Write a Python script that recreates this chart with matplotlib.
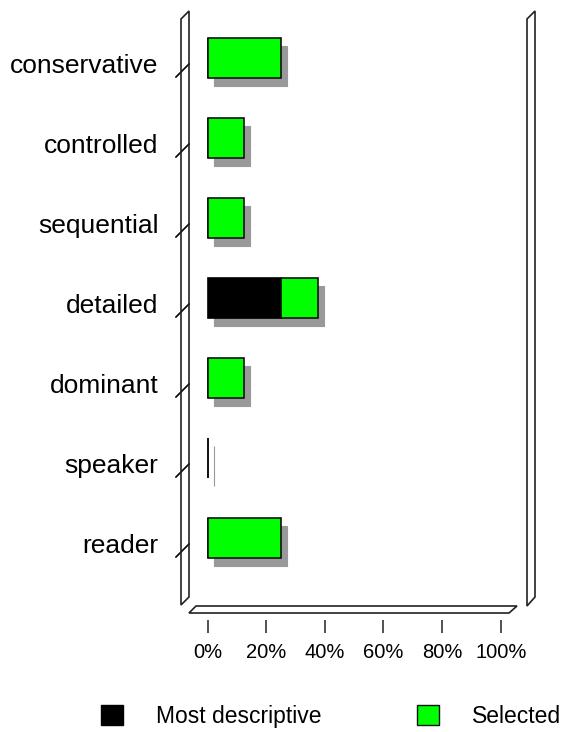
"""
Descriptor selection chart (pseudo-3D horizontal bars)
"""
import matplotlib
matplotlib.use("Agg")
from matplotlib import pyplot as plt
from matplotlib import transforms as mtransforms
from matplotlib.lines import Line2D
from matplotlib.patches import Patch, Polygon

plt.rcParams["font.family"] = ["Liberation Sans", "DejaVu Sans"]

# data
categories = ["conservative", "controlled", "sequential", "detailed",
              "dominant", "speaker", "reader"]
most_descriptive = [0, 0, 0, 25, 0, 0, 0]
selected = [25, 12.5, 12.5, 12.5, 12.5, 0, 25]
x_ticks = [0, 20, 40, 60, 80, 100]
x_tick_labels = ["0%", "20%", "40%", "60%", "80%", "100%"]
series_labels = ["Most descriptive", "Selected"]

# layout in image pixels (dpi = 100)
W, H = 571, 732
L, R, T, B = 189, 527, 11, 606  # plot box
D = 8                           # wall depth
GREEN = "#00ff00"
SHADOW = "#999999"
EDGE = "#222222"

fig = plt.figure(figsize=(W / 100, H / 100), dpi=100)
ax = fig.add_axes([L / W, 1 - B / H, (R - L) / W, (B - T) / H])
ax.set_xlim(-6.38, 108.98)
ax.set_ylim(6.85, -0.5875)

# image-pixel transform for the frame decoration
img = mtransforms.Affine2D().scale(1, -1).translate(0, H)

# walls and floor (outline only, so the wall ticks stay visible)
walls = [
    [(L - D, T + D), (L, T), (L, B - 9), (L - D, B - 1)],
    [(R, T + D), (R + D, T), (R + D, B - 9), (R, B)],
    [(L + 7, B), (R - 10, B), (R - 18, B + 7), (L, B + 7)],
]
for pts in walls:
    fig.add_artist(Polygon(pts, closed=True, facecolor="none",
                           edgecolor=EDGE, linewidth=1.2, transform=img))

# slanted ticks on the left wall, one per category
for i in range(len(categories)):
    anchor = mtransforms.ScaledTranslation(0, i, ax.get_yaxis_transform())
    tr = mtransforms.Affine2D().scale(1, -1) + anchor
    ax.add_line(Line2D([-13, 0], [19, 6], color="black", linewidth=1.2,
                       transform=tr, clip_on=False))

# bars with drop shadow
y = list(range(len(categories)))
total = [m + s for m, s in zip(most_descriptive, selected)]
shadow_tr = ax.transData + mtransforms.ScaledTranslation(
    0.06, -0.08, fig.dpi_scale_trans)
ax.barh(y, total, height=0.5, color=SHADOW, edgecolor=SHADOW,
        linewidth=0.8, transform=shadow_tr, zorder=1)
ax.barh(y, most_descriptive, height=0.5, color="black",
        edgecolor="black", linewidth=1.2, zorder=2)
ax.barh(y, selected, left=most_descriptive, height=0.5, color=GREEN,
        edgecolor="#111111", linewidth=1.2, zorder=2)

# category labels
label_tr = ax.get_yaxis_transform() + mtransforms.ScaledTranslation(
    -0.305, -0.15, fig.dpi_scale_trans)
for i, name in enumerate(categories):
    ax.text(0, i, name, transform=label_tr, ha="right", va="baseline",
            fontsize=19, color="black")

# x axis
for side in ["left", "right", "top"]:
    ax.spines[side].set_visible(False)
ax.spines["bottom"].set_position(("outward", 10))
ax.spines["bottom"].set_visible(False)
ax.set_yticks([])
ax.set_xticks(x_ticks)
ax.set_xticklabels(x_tick_labels, fontsize=14.5)
ax.tick_params(axis="x", direction="out", length=9, width=1.1,
               color=EDGE, pad=8)
ax.patch.set_visible(False)

# legend
handles = [Patch(facecolor="black", edgecolor="black"),
           Patch(facecolor=GREEN, edgecolor="#111111")]
fig.legend(handles, series_labels, loc="center left",
           bbox_to_anchor=(100.7 / W, 1 - 716.5 / H), ncol=2,
           frameon=False, fontsize=16.5, borderpad=0, borderaxespad=0,
           handlelength=0.96, handleheight=0.92, handletextpad=1.45,
           columnspacing=4.18)

fig.savefig("out.png", dpi=100)
